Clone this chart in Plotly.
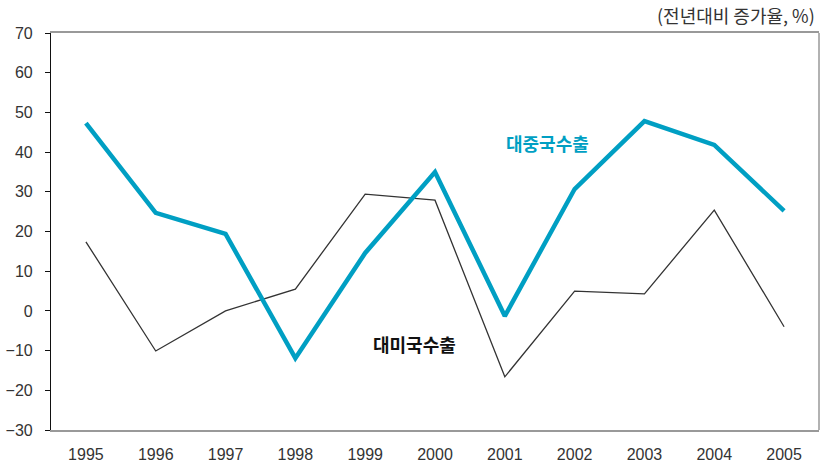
import plotly.graph_objects as go

years = ["1995", "1996", "1997", "1998", "1999", "2000", "2001", "2002", "2003", "2004", "2005"]
china_exports = [47.3, 24.7, 19.4, -11.9, 14.6, 35.0, -1.3, 30.7, 47.8, 41.8, 25.2]
us_exports = [17.4, -10.1, 0.0, 5.5, 29.4, 27.9, -16.6, 5.0, 4.3, 25.4, -4.0]
y_ticks = [70, 60, 50, 40, 30, 20, 10, 0, -10, -20, -30]
y_tick_text = [str(v).replace("-", "\u2212") for v in y_ticks]

TEAL = "#009FC3"
FONT = "Liberation Sans, Arial, sans-serif"
KFONT = "Noto Sans CJK KR, sans-serif"

fig = go.Figure()
fig.add_trace(go.Scatter(x=years, y=us_exports, mode="lines",
                         line=dict(color="#333333", width=1.3), name="대미국수출"))
fig.add_trace(go.Scatter(x=years, y=china_exports, mode="lines",
                         line=dict(color=TEAL, width=4.5), name="대중국수출"))

# series labels placed by category index
fig.add_annotation(x=6.61, y=42.3, text="<b>대중국수출</b>", showarrow=False,
                   xanchor="center", yanchor="middle",
                   font=dict(family=KFONT, size=18, color=TEAL))
fig.add_annotation(x=4.7, y=-8.3, text="<b>대미국수출</b>", showarrow=False,
                   xanchor="center", yanchor="middle",
                   font=dict(family=KFONT, size=18, color="#111111"))
fig.add_annotation(x=1, y=1, xref="paper", yref="paper", yshift=18, xshift=-2,
                   text="(전년대비 증가율, %)", showarrow=False, xanchor="right", yanchor="middle",
                   font=dict(family=KFONT, size=18, color="#333333"))

# right border of the frame
fig.add_shape(type="line", xref="paper", yref="paper", x0=1, x1=1, y0=0, y1=1,
              line=dict(color="#999999", width=1.5))

fig.update_layout(
    width=821, height=467,
    margin=dict(l=51, r=2, t=33, b=37),
    paper_bgcolor="white", plot_bgcolor="white",
    showlegend=False,
    font=dict(family=FONT, size=16, color="#333333"),
    xaxis=dict(type="category", range=[-0.5, 10.5], showgrid=False, zeroline=False,
               showline=True, linecolor="#999999", linewidth=1.5, mirror=True,
               ticks="", tickfont=dict(size=16), ticklabelstandoff=9),
    yaxis=dict(range=[-30, 70], tickvals=y_ticks, ticktext=y_tick_text,
               showgrid=False, zeroline=False, showline=True, linecolor="#111111",
               linewidth=1.2, ticks="outside", ticklen=5, tickcolor="#111111",
               tickfont=dict(size=16), ticklabelstandoff=9),
)

fig.write_html("out.html")
